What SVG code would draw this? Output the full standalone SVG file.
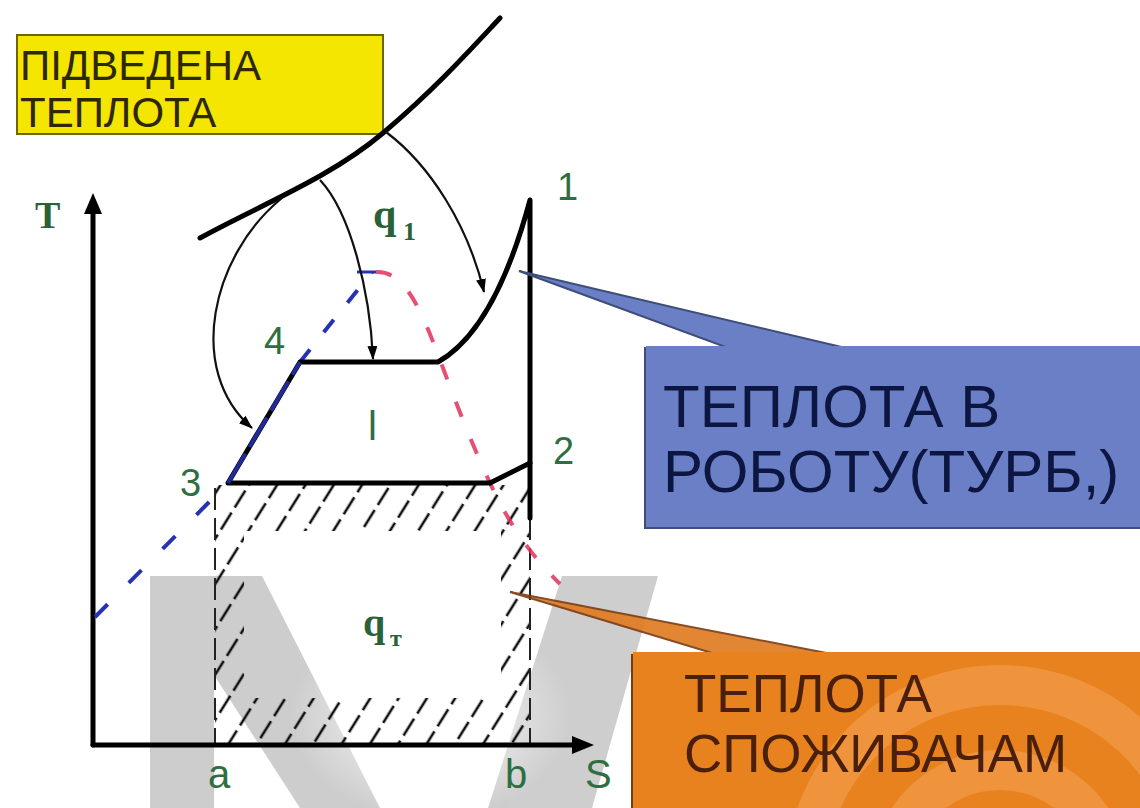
<svg xmlns="http://www.w3.org/2000/svg" width="1140" height="808" viewBox="0 0 1140 808">
<style>
.thick{fill:none;stroke:#000;stroke-width:5;stroke-linecap:round;stroke-linejoin:round}
.thin{fill:none;stroke:#111;stroke-width:2.2}
.lbl{font-family:"Liberation Sans",Arial,sans-serif;fill:#2f6e40}
.ser{font-family:"Liberation Serif","Times New Roman",serif;font-weight:bold;fill:#2a6238}
.box{font-family:"Liberation Sans",Arial,sans-serif}
</style>
<defs>
<marker id="ah" viewBox="0 0 14 10" refX="13" refY="5" markerWidth="14" markerHeight="10" markerUnits="userSpaceOnUse" orient="auto">
<path d="M0,0 L14,5 L0,10 Z" fill="#000"/>
</marker>
<pattern id="hatch" patternUnits="userSpaceOnUse" width="24" height="26" patternTransform="rotate(32)">
<line x1="12" y1="0" x2="12" y2="26" stroke="#111" stroke-width="2.6" stroke-dasharray="20 6"/>
</pattern>
<radialGradient id="glow" cx="0.5" cy="0.5" r="0.5">
<stop offset="0" stop-color="#fff" stop-opacity="0.95"/>
<stop offset="1" stop-color="#fff" stop-opacity="0"/>
</radialGradient>
<clipPath id="oclip"><rect x="632" y="655" width="508" height="153"/></clipPath>
</defs>
<rect width="1140" height="808" fill="#fff"/>

<!-- watermark -->
<g id="watermark" fill="#bdbdbd" opacity="0.75">
<polygon points="150,576 214,576 214,808 150,808"/>
<polygon points="150,576 262,576 380,808 300,808"/>
<polygon points="562,576 658,576 592,808 488,808"/>
</g>
<ellipse cx="430" cy="715" rx="140" ry="105" fill="url(#glow)"/>

<!-- yellow node -->
<g id="supplied-heat">
<rect x="17" y="35" width="366" height="99" fill="#f4e600" stroke="#6e6400" stroke-width="2"/>
<text class="box" x="20" y="80" font-size="42" fill="#2e2800">ПІДВЕДЕНА</text>
<text class="box" x="20" y="127" font-size="42" fill="#2e2800">ТЕПЛОТА</text>
</g>

<!-- hatch area -->
<g id="hatch-area">
<path d="M215,485 H530 V745 H215 Z M244,531 V698 H501 V531 Z" fill="url(#hatch)" fill-rule="evenodd"/>
<line x1="215" y1="488" x2="215" y2="745" stroke="#222" stroke-width="2" stroke-dasharray="22 8"/>
<line x1="530" y1="518" x2="530" y2="745" stroke="#222" stroke-width="2" stroke-dasharray="22 8"/>
</g>

<!-- axes -->
<g id="axes">
<line x1="93" y1="745" x2="93" y2="210" class="thick"/>
<polygon points="84,214 93,193 102,214" fill="#000"/>
<line x1="93" y1="745" x2="575" y2="745" class="thick"/>
<polygon points="572,736 594,745 572,754" fill="#000"/>
<text class="ser" x="35" y="228" font-size="38">T</text>
<text class="lbl" x="208" y="788" font-size="40">a</text>
<text class="lbl" x="505" y="788" font-size="40">b</text>
<text class="lbl" x="585" y="788" font-size="40">S</text>
</g>

<!-- heat source curve -->
<g id="heat-source">
<path class="thick" d="M200,238 C260,205 330,178 383,133 S470,50 500,18" stroke-width="5.5"/>
</g>

<!-- saturation lines -->
<g id="saturation">
<path d="M95,617 L228,483" fill="none" stroke="#2632b4" stroke-width="4" stroke-dasharray="18 30"/>
<path d="M300,362 L372,272" fill="none" stroke="#2632b4" stroke-width="4" stroke-dasharray="16 22"/>
<path d="M357,272 L376,272" fill="none" stroke="#2632b4" stroke-width="3"/>
<path d="M376,272 C405,270 422,312 440,360 C455,400 470,440 490,483 C505,515 525,550 560,584" fill="none" stroke="#e2305a" stroke-width="4" stroke-dasharray="16 24" opacity="0.85"/>
</g>

<!-- cycle -->
<g id="cycle">
<path class="thick" d="M490,483 H228 L300,362 H438 Q495,330 530,200 V518"/>
<path class="thick" d="M530,463 L490,483"/>
<path d="M228,483 L300,362" fill="none" stroke="#2632b4" stroke-width="4" stroke-dasharray="34 8" opacity="0.85"/>
</g>

<!-- connectors -->
<g id="connectors">
<path class="thin" d="M282,198 C212,255 185,370 252,428" marker-end="url(#ah)"/>
<path class="thin" d="M320,180 C350,212 370,290 373,359" marker-end="url(#ah)"/>
<path class="thin" d="M386,132 C430,165 468,225 484,292" marker-end="url(#ah)"/>
</g>

<!-- point labels -->
<g id="labels">
<text class="lbl" x="557" y="200" font-size="38">1</text>
<text class="lbl" x="553" y="464" font-size="38">2</text>
<text class="lbl" x="180" y="496" font-size="38">3</text>
<text class="lbl" x="264" y="354" font-size="38">4</text>
<text class="ser" x="373" y="228" font-size="42">q</text>
<text class="ser" x="403" y="240" font-size="26">1</text>
<text class="lbl" x="368" y="440" font-size="40">l</text>
<text class="ser" x="363" y="636" font-size="40">q</text>
<text class="ser" x="390" y="646" font-size="24">т</text>
</g>

<!-- blue callout -->
<g id="work-heat">
<polygon points="519,271 731,349 850,349" fill="#6a7fc6" stroke="#3e4e78" stroke-width="2"/>
<rect x="645" y="348" width="500" height="180" fill="#6a7fc6" stroke="#3e4e78" stroke-width="2"/>
<rect x="646" y="346" width="498" height="5" fill="#6a7fc6"/>
<text class="box" x="663" y="427" font-size="60" fill="#0d1640">ТЕПЛОТА В</text>
<text class="box" x="663" y="492" font-size="60" fill="#0d1640">РОБОТУ(ТУРБ,)</text>
</g>

<!-- orange callout -->
<g id="consumer-heat">
<polygon points="510,592 722,656 842,656" fill="#e07a1e" stroke="#7a3a10" stroke-width="2" opacity="0.9"/>
<rect x="632" y="655" width="510" height="160" fill="#e8821e" stroke="#7a3a10" stroke-width="2"/>
<rect x="633" y="652" width="508" height="5" fill="#e8821e"/>
<g clip-path="url(#oclip)" fill="none">
<circle cx="1000" cy="880" r="195" stroke="#f4a050" stroke-width="40" opacity="0.6"/>
<circle cx="1000" cy="880" r="110" stroke="#f4a050" stroke-width="40" opacity="0.6"/>
</g>
<text class="box" x="684" y="712" font-size="53" fill="#4a200c">ТЕПЛОТА</text>
<text class="box" x="684" y="772" font-size="53" fill="#4a200c">СПОЖИВАЧАМ</text>
</g>
</svg>
